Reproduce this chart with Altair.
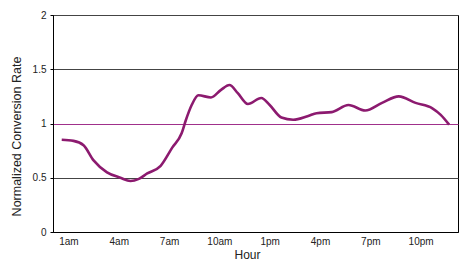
import altair as alt
import pandas as pd

hours = [0.6, 1.3, 1.9, 2.5, 3.3, 4.1, 4.7, 5.2, 5.7, 6.5, 7.2, 7.75, 8.0, 8.35, 8.75,
         9.5, 10.1, 10.6, 11.1, 11.7, 12.5, 13.0, 13.7, 14.4, 15.3, 15.8, 16.7, 17.7,
         18.7, 19.7, 20.7, 21.7, 22.7, 23.2, 23.7]
rates = [0.85, 0.84, 0.80, 0.66, 0.55, 0.50, 0.47, 0.49, 0.54, 0.61, 0.78, 0.91, 1.03,
         1.17, 1.26, 1.24, 1.31, 1.355, 1.28, 1.18, 1.235, 1.17, 1.055, 1.035, 1.07,
         1.095, 1.105, 1.17, 1.12, 1.19, 1.25, 1.19, 1.14, 1.08, 0.99]

tick_hours = [1, 4, 7, 10, 13, 16, 19, 22]
tick_labels = ["1am", "4am", "7am", "10am", "1pm", "4pm", "7pm", "10pm"]
y_ticks = [0, 0.5, 1, 1.5, 2]

df = pd.DataFrame({"hour": hours, "rate": rates})

label_expr = " : ".join(
    f"datum.value == {h} ? '{l}'" for h, l in zip(tick_hours, tick_labels)
) + " : ''"

chart = alt.Chart(df).mark_line(
    color="#8c1a6f", strokeWidth=2.6, interpolate="monotone"
).encode(
    x=alt.X("hour:Q", title="Hour",
            scale=alt.Scale(domain=[0.08, 24.23], nice=False, zero=False),
            axis=alt.Axis(values=tick_hours, labelExpr=label_expr, grid=False,
                          ticks=False, labelPadding=4, titlePadding=3,
                          domainColor="black", titleFontSize=12, titleX=194)),
    y=alt.Y("rate:Q", title="Normalized Conversion Rate",
            scale=alt.Scale(domain=[0, 2], nice=False),
            axis=alt.Axis(values=y_ticks, format="~g", ticks=True, tickSize=3,
                          tickColor="black", labelPadding=4,
                          titlePadding=9, domainColor="black", titleY=121,
                          titleFontSize=12.5,
                          gridColor={"condition": {"test": "datum.value == 1",
                                                   "value": "#a0308b"},
                                     "value": "#444444"},
                          gridWidth=1, gridOpacity=1)),
).properties(
    width=405, height=217,
    autosize=alt.AutoSizeParams(type="none"),
    padding={"left": 53, "top": 15, "right": 13, "bottom": 32},
).configure_view(
    stroke="black", strokeWidth=1
).configure_axis(
    labelFont="Liberation Sans", titleFont="Liberation Sans",
    labelFontSize=10, titleFontWeight="normal",
    labelColor="#222222", titleColor="#222222"
)

chart.save("out.html", embed_options={"renderer": "svg", "actions": False})
